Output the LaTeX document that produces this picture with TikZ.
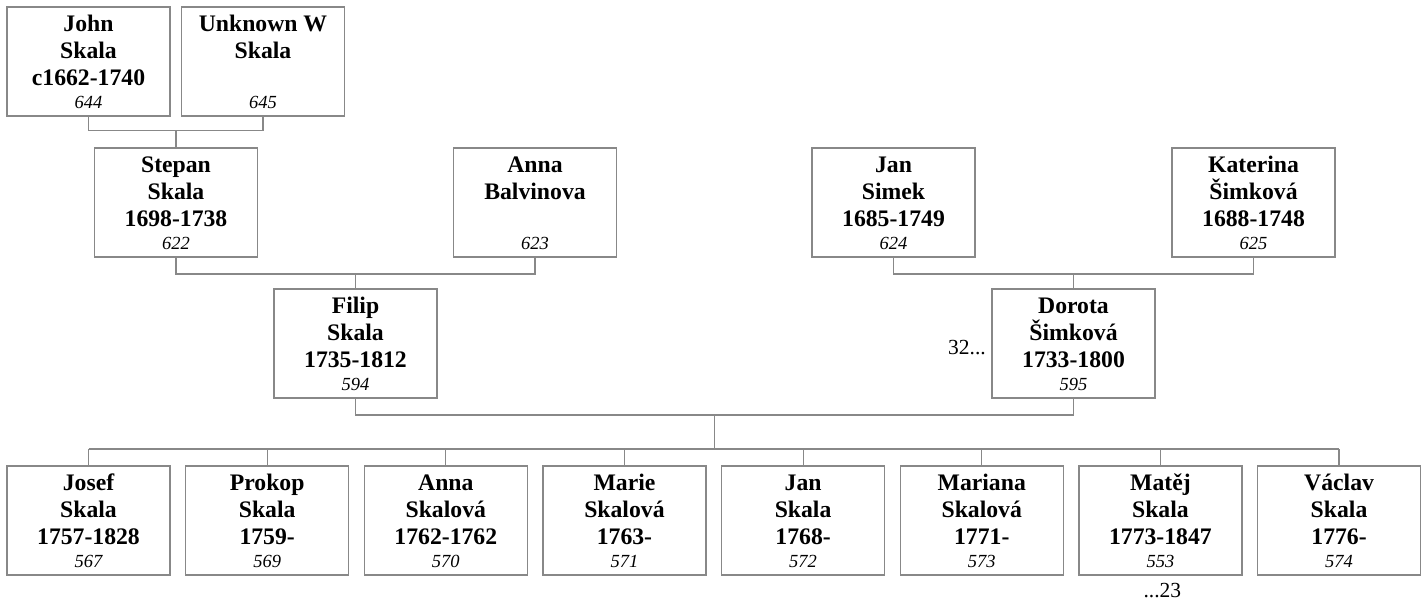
\documentclass[tikz,border=0pt]{standalone}
\usepackage{fontspec}
\setmainfont{Liberation Serif}
\usetikzlibrary{calc}
\definecolor{linegray}{RGB}{136,136,136}
\tikzset{
  pbox/.style={draw=linegray, line width=1.2pt, minimum width=163pt, minimum height=109pt, inner sep=0pt, outer sep=0pt, anchor=north, fill=white},
  nm/.style={font=\fontsize{23.7}{26}\selectfont\bfseries, inner sep=0pt, anchor=base},
  num/.style={font=\fontsize{18.5}{20}\selectfont\itshape, inner sep=0pt, anchor=base},
  note/.style={font=\fontsize{21.5}{23}\selectfont, inner sep=0pt},
  conn/.style={draw=linegray, line width=1.2pt}
}
\newcommand\person[7]{%
  \node[pbox] (#1) at (#2,#3) {};
  \node[nm] (#1-a) at ($(#1.north)+(0,24.7)$) {#4};
  \node[nm] (#1-b) at ($(#1.north)+(0,51.6)$) {#5};
  \if\relax\detokenize{#6}\relax\else
  \node[nm] (#1-c) at ($(#1.north)+(0,78.2)$) {#6};\fi
  \node[num] (#1-d) at ($(#1.north)+(0,101.5)$) {#7};
}
\begin{document}
\begin{tikzpicture}[x=1pt,y=-1pt]
\fill[white] (0,0) rectangle (1424,601);
\useasboundingbox (0,0) rectangle (1424,601);
% generation levels
\coordinate (g1) at (0,130.5);
\coordinate (g2) at (0,274);
\coordinate (g3) at (0,415);
\coordinate (g4) at (0,449);
% people
\person{john}{88.5}{7}{John}{Skala}{c1662-1740}{644}
\person{unk}{263}{7}{Unknown W}{Skala}{}{645}
\person{stepan}{176}{148}{Stepan}{Skala}{1698-1738}{622}
\person{annab}{535}{148}{Anna}{Balvinova}{}{623}
\person{jans}{893.5}{148}{Jan}{Simek}{1685-1749}{624}
\person{kat}{1253.5}{148}{Katerina}{Šimková}{1688-1748}{625}
\person{filip}{355.5}{289}{Filip}{Skala}{1735-1812}{594}
\person{dorota}{1073.5}{289}{Dorota}{Šimková}{1733-1800}{595}
\person{josef}{88.5}{466}{Josef}{Skala}{1757-1828}{567}
\person{prokop}{267.15}{466}{Prokop}{Skala}{1759-}{569}
\person{annas}{445.8}{466}{Anna}{Skalová}{1762-1762}{570}
\person{marie}{624.45}{466}{Marie}{Skalová}{1763-}{571}
\person{jan}{803.1}{466}{Jan}{Skala}{1768-}{572}
\person{mariana}{981.75}{466}{Mariana}{Skalová}{1771-}{573}
\person{matej}{1160.4}{466}{Matěj}{Skala}{1773-1847}{553}
\person{vaclav}{1339.05}{466}{Václav}{Skala}{1776-}{574}
% notes
\node[note, anchor=base east] (n32) at ($(dorota.west)+(-6,11)$) {32...};
\node[note, anchor=base] (n23) at ($(matej.south)+(2,22)$) {...23};
% connectors
\draw[conn] (john.south) -- (john.south |- g1) -- (unk.south |- g1) -- (unk.south);
\draw[conn] (stepan.north) -- (stepan.north |- g1);
\draw[conn] (stepan.south) -- (stepan.south |- g2) -- (annab.south |- g2) -- (annab.south);
\draw[conn] (filip.north) -- (filip.north |- g2);
\draw[conn] (jans.south) -- (jans.south |- g2) -- (kat.south |- g2) -- (kat.south);
\draw[conn] (dorota.north) -- (dorota.north |- g2);
\draw[conn] (filip.south) -- (filip.south |- g3) -- (dorota.south |- g3) -- (dorota.south);
\coordinate (mid) at ($(filip.south |- g3)!0.5!(dorota.south |- g3)$);
\draw[conn] (mid) -- (mid |- g4);
\draw[conn] (josef.north |- g4) -- (vaclav.north |- g4);
\foreach \c in {josef,prokop,annas,marie,jan,mariana,matej,vaclav}
  \draw[conn] (\c.north) -- (\c.north |- g4);
\end{tikzpicture}
\end{document}
